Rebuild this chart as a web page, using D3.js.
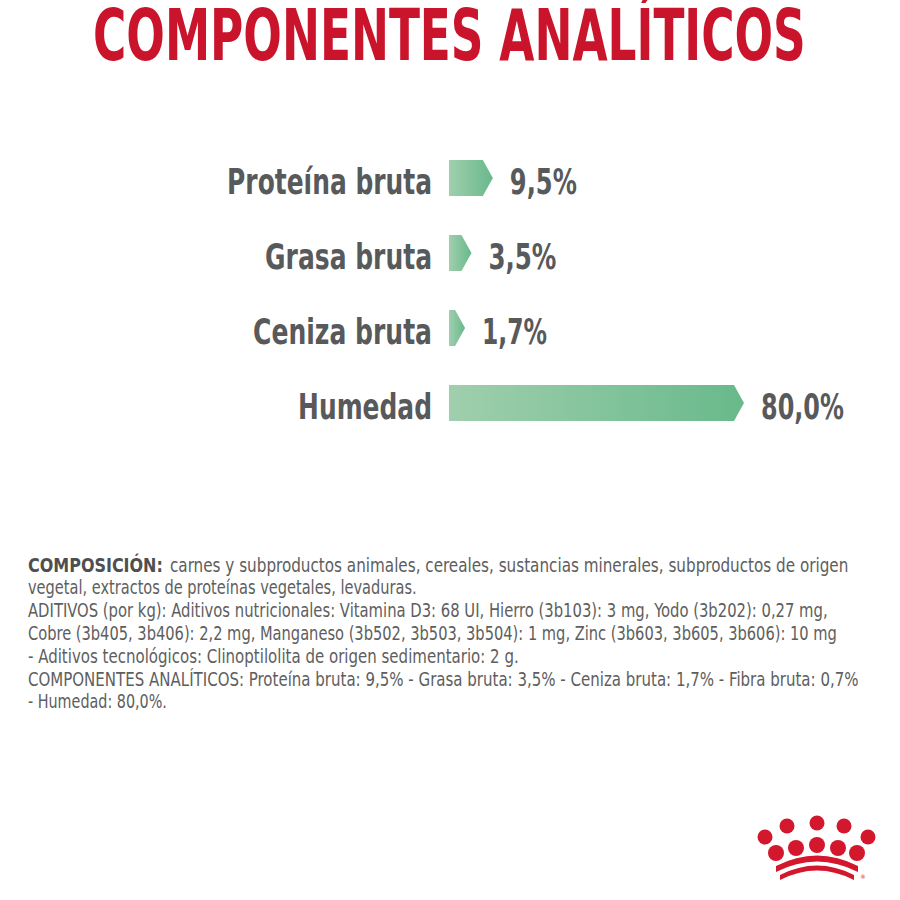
<!DOCTYPE html>
<html>
<head>
<meta charset="utf-8">
<script src="https://cdn.jsdelivr.net/npm/d3@7"></script>
<style>
  body { margin: 0; background: #fff; }
  text { font-family: "DejaVu Sans Condensed", "Liberation Sans Narrow", sans-serif; font-stretch: condensed; }
</style>
</head>
<body>
<div id="main"></div>
<script>
const W = 900;
const H = 900;

// chart data
var titleText = "COMPONENTES ANALÍTICOS";
var categories = ["Proteína bruta", "Grasa bruta", "Ceniza bruta", "Humedad"];
var values = [9.5, 3.5, 1.7, 80.0];

// small print under the chart
var compLead = "COMPOSICIÓN:";
var compLines = [
    "carnes y subproductos animales, cereales, sustancias minerales, subproductos de origen",
    "vegetal, extractos de proteínas vegetales, levaduras.",
    "ADITIVOS (por kg): Aditivos nutricionales: Vitamina D3: 68 UI, Hierro (3b103): 3 mg, Yodo (3b202): 0,27 mg,",
    "Cobre (3b405, 3b406): 2,2 mg, Manganeso (3b502, 3b503, 3b504): 1 mg, Zinc (3b603, 3b605, 3b606): 10 mg",
    "- Aditivos tecnológicos: Clinoptilolita de origen sedimentario: 2 g.",
    "COMPONENTES ANALÍTICOS: Proteína bruta: 9,5% - Grasa bruta: 3,5% - Ceniza bruta: 1,7% - Fibra bruta: 0,7%",
    "- Humedad: 80,0%."
];

// layout (widths)
var lineStarts = [170, 28, 28, 28, 28, 28, 28];
var lineWidths = [679, 389, 800, 809, 491, 831, 139];
var labelWidths = [205, 167, 179, 134];
var valueWidths = [67, 68, 65, 83];

var ctx = {
    red: "#c9142b",
    grey: "#58595b",
    textGrey: "#5e5e5e",
    barH: 36,
    tipW: 10,
};

var fmt = function(v){ return d3.format(".1f")(v).replace(".", ",") + "%"; };

// squeeze a text horizontally so it spans w pixels, keeping its height
var fitWidth = function(sel, x, y, w){
    sel.each(function(d, i){
        var el = d3.select(this);
        var xx = typeof x === "function" ? x(d, i) : x;
        var yy = typeof y === "function" ? y(d, i) : y;
        var ww = typeof w === "function" ? w(d, i) : w;
        var nat = this.getComputedTextLength();
        var sx = nat > 0 ? ww / nat : 1;
        el.attr("transform", "translate(" + xx + "," + yy + ") scale(" + sx + ",1)");
    });
};

var createViz = function(){
    var svg = d3.select("#main").append("svg")
        .attr("width", W)
        .attr("height", H);

    var defs = svg.append("defs");
    var grad = defs.append("linearGradient")
        .attr("id", "barGrad")
        .attr("x1", "0").attr("x2", "1").attr("y1", "0").attr("y2", "0");
    grad.append("stop").attr("offset", "0%").attr("stop-color", "#a0cfae");
    grad.append("stop").attr("offset", "100%").attr("stop-color", "#68b98b");

    // title
    svg.append("text")
        .style("font-size", "71px")
        .style("font-weight", "bold")
        .style("fill", ctx.red)
        .text(titleText)
        .call(fitWidth, 93, 60, 713);

    var x = d3.scaleLinear().domain([0, 80]).range([449, 734]);
    var y = d3.scalePoint().domain(categories).range([178, 403]);

    var rows = svg.append("g").attr("id", "bars")
        .selectAll("g.row")
        .data(categories.map(function(c, i){ return {cat: c, v: values[i], i: i}; }))
        .enter()
        .append("g")
        .attr("class", "row");

    // arrow-shaped bars
    rows.append("path")
        .attr("d", function(d){
            var x0 = x(0), x1 = x(d.v), yc = y(d.cat), h = ctx.barH / 2;
            return "M" + x0 + "," + (yc - h) +
                   "L" + x1 + "," + (yc - h) +
                   "L" + (x1 + ctx.tipW) + "," + yc +
                   "L" + x1 + "," + (yc + h) +
                   "L" + x0 + "," + (yc + h) + "Z";
        })
        .style("fill", "url(#barGrad)");

    rows.append("text")
        .attr("text-anchor", "end")
        .style("font-size", "36px")
        .style("font-weight", "bold")
        .style("fill", ctx.grey)
        .text(function(d){ return d.cat; })
        .call(fitWidth, 432, function(d){ return y(d.cat) + 15.5; }, function(d){ return labelWidths[d.i]; });

    rows.append("text")
        .style("font-size", "36px")
        .style("font-weight", "bold")
        .style("fill", ctx.grey)
        .text(function(d){ return fmt(d.v); })
        .call(fitWidth, function(d){ return x(d.v) + ctx.tipW + 17; },
              function(d){ return y(d.cat) + 15.5; },
              function(d){ return valueWidths[d.i]; });

    // composition text
    var txt = svg.append("g").attr("id", "composition");
    txt.append("text")
        .style("font-size", "19px")
        .style("font-weight", "bold")
        .style("fill", "#4f4f4f")
        .text(compLead)
        .call(fitWidth, 28, 571.5, 135);

    txt.selectAll("text.line")
        .data(compLines)
        .enter()
        .append("text")
        .attr("class", "line")
        .style("font-size", "19px")
        .style("fill", ctx.textGrey)
        .text(function(d){ return d; })
        .call(fitWidth, function(d, i){ return lineStarts[i]; },
              function(d, i){ return 571.5 + i * 22.8; },
              function(d, i){ return lineWidths[i]; });

    drawLogo(svg);
};

// Royal Canin crown
var crownDots = [
    [765, 837, 7.5], [787, 826, 7.5], [817, 823, 7.5], [844, 826, 7.5], [868, 837, 7.5],
    [776, 853, 8], [796, 848, 8], [817, 845, 8], [838, 848, 8], [857, 853, 8]
];

var drawLogo = function(svg){
    var g = svg.append("g").attr("id", "logo");
    g.selectAll("circle")
        .data(crownDots)
        .enter()
        .append("circle")
        .attr("cx", function(d){ return d[0]; })
        .attr("cy", function(d){ return d[1]; })
        .attr("r", function(d){ return d[2]; })
        .style("fill", "#d3172d");

    g.append("path")
        .attr("d", "M776,872 Q817,851 858,872 L858,866 Q817,845 776,866 Z")
        .style("fill", "#d3172d");
    g.append("path")
        .attr("d", "M780,880 Q817,861 854,880 L854,875 Q817,856 780,875 Z")
        .style("fill", "#d3172d");
    g.append("text")
        .attr("x", 863)
        .attr("y", 879)
        .attr("text-anchor", "middle")
        .style("font-size", "6px")
        .style("fill", "#d3172d")
        .text("®");
};

createViz();
</script>
</body>
</html>
